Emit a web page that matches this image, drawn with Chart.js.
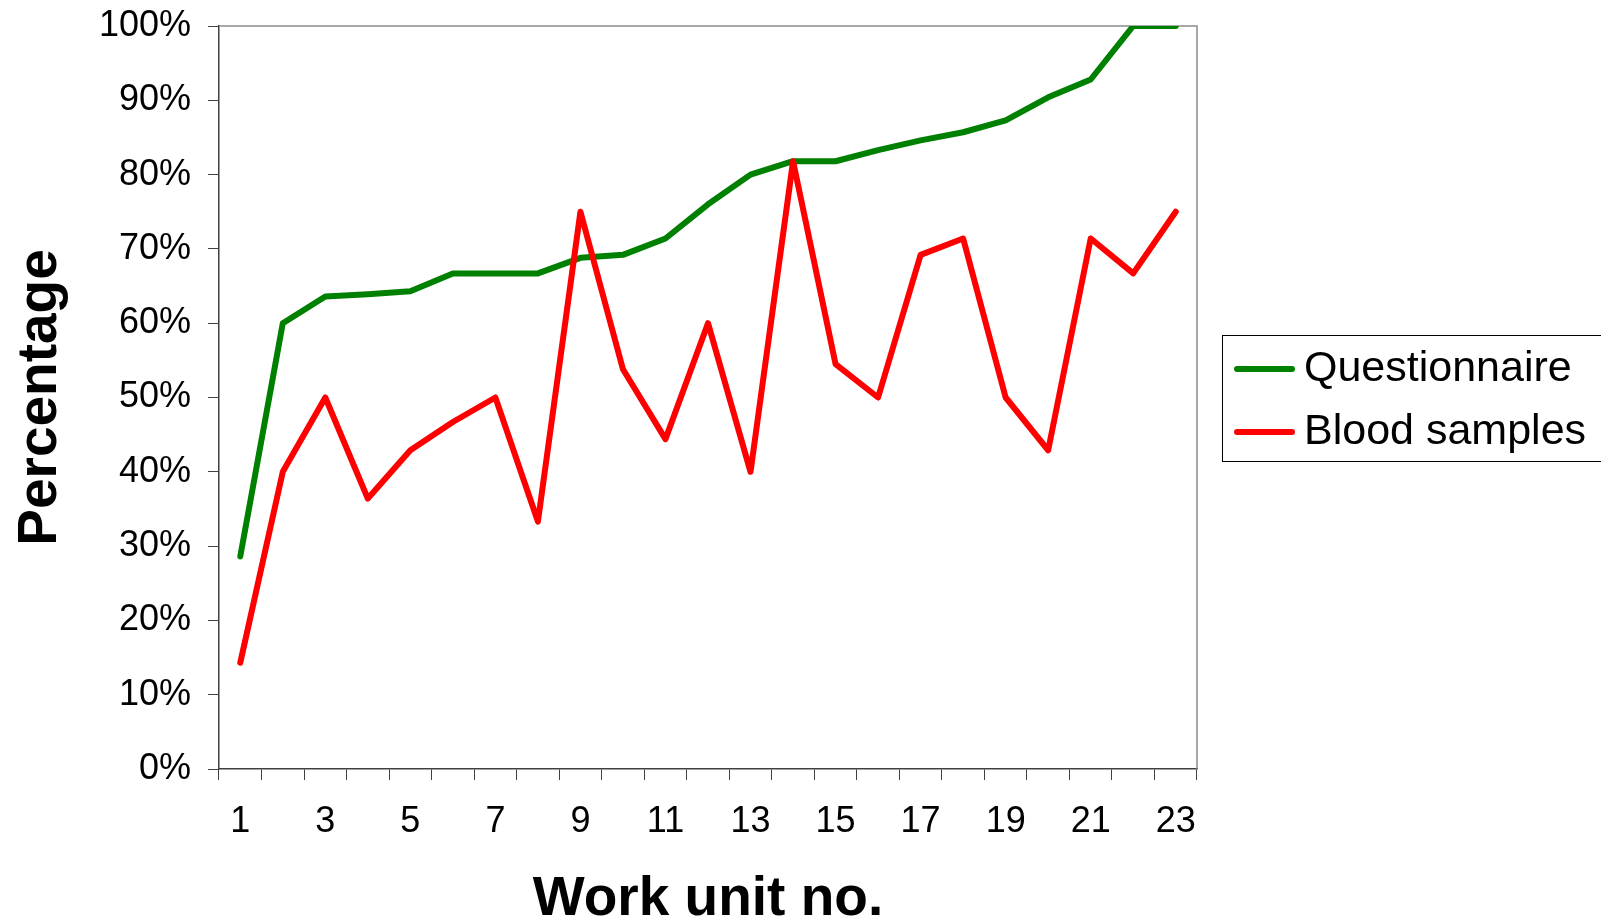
<!DOCTYPE html>
<html>
<head>
<meta charset="utf-8">
<script src="https://cdn.jsdelivr.net/npm/chart.js@4.4.1/dist/chart.umd.min.js"></script>
<style>
  html, body { margin: 0; padding: 0; background: #fff; }
</style>
</head>
<body>
<canvas id="chart" width="1601" height="922"></canvas>
<script>
const workUnits = ['1', '2', '3', '4', '5', '6', '7', '8', '9', '10', '11', '12',
                   '13', '14', '15', '16', '17', '18', '19', '20', '21', '22', '23'];
const questionnaire = [28.6, 60, 63.6, 63.9, 64.3, 66.7, 66.7, 66.7, 68.8, 69.2, 71.4, 76,
                       80, 81.8, 81.8, 83.3, 84.6, 85.7, 87.3, 90.4, 92.8, 100, 100];
const bloodSamples = [14.3, 40, 50, 36.4, 42.9, 46.7, 50, 33.3, 75, 53.8, 44.4, 60,
                      40, 81.8, 54.5, 50, 69.2, 71.4, 50, 42.9, 71.4, 66.7, 75];
const yMin = 0;
const yMax = 100;
const yStep = 10;

Chart.defaults.font.family = '"Liberation Sans", Arial, sans-serif';
Chart.defaults.color = '#000';

// grey frame on top and right of the plot area, like the original
const plotFrame = {
    id: 'plotFrame',
    beforeDatasetsDraw(chart) {
        const { ctx, chartArea: a } = chart;
        ctx.save();
        ctx.strokeStyle = '#8c8c8c';
        ctx.lineWidth = 1.5;
        ctx.beginPath();
        ctx.moveTo(a.left, a.top);
        ctx.lineTo(a.right, a.top);
        ctx.lineTo(a.right, a.bottom);
        ctx.stroke();
        ctx.restore();
    }
};

// boxed legend to the right, running off the edge
const legendBox = {
    id: 'legendBox',
    afterDraw(chart) {
        const { ctx, chartArea } = chart;
        const left = chartArea.right + 25;
        const top = 335;
        const bottom = 461;
        ctx.save();
        ctx.strokeStyle = '#000';
        ctx.lineWidth = 1;
        ctx.strokeRect(left + 0.5, top + 0.5, chart.width - left + 20, bottom - top);
        ctx.font = '43px "Liberation Sans", Arial, sans-serif';
        ctx.textBaseline = 'middle';
        ctx.textAlign = 'left';
        chart.data.datasets.forEach((ds, i) => {
            const y = 369 + i * 63;
            ctx.strokeStyle = ds.borderColor;
            ctx.lineWidth = 6;
            ctx.lineCap = 'round';
            ctx.beginPath();
            ctx.moveTo(left + 15, y);
            ctx.lineTo(left + 70, y);
            ctx.stroke();
            ctx.fillStyle = '#000';
            ctx.fillText(ds.label, left + 82, y);
        });
        ctx.restore();
    }
};

const ctx = document.getElementById('chart').getContext('2d');

const chart = new Chart(ctx, {
    type: 'line',
    data: {
        labels: workUnits,
        datasets: [
            {
                label: 'Questionnaire',
                data: questionnaire,
                borderColor: '#008000',
                backgroundColor: '#008000',
                borderWidth: 6,
                borderCapStyle: 'round',
                borderJoinStyle: 'round',
                pointRadius: 0,
                tension: 0,
                fill: false,
                order: 1
            },
            {
                label: 'Blood samples',
                data: bloodSamples,
                borderColor: '#ff0000',
                backgroundColor: '#ff0000',
                borderWidth: 6,
                borderCapStyle: 'round',
                borderJoinStyle: 'round',
                pointRadius: 0,
                tension: 0,
                fill: false,
                order: 0
            }
        ]
    },
    options: {
        responsive: false,
        animation: false,
        layout: {
            padding: { top: 26, right: 404, bottom: 0, left: 0 }
        },
        plugins: {
            legend: { display: false },
            tooltip: { enabled: false }
        },
        scales: {
            x: {
                offset: true,
                grid: {
                    offset: true,
                    drawOnChartArea: false,
                    drawTicks: true,
                    tickLength: 11,
                    color: '#404040'
                },
                border: { color: '#404040', width: 1.5 },
                ticks: {
                    autoSkip: false,
                    maxRotation: 0,
                    padding: 20,
                    font: { size: 36 },
                    callback: function (val, index) {
                        return index % 2 === 0 ? this.getLabelForValue(val) : '';
                    }
                },
                title: {
                    display: true,
                    text: 'Work unit no.',
                    font: { size: 55, weight: 'bold', lineHeight: 0.8 },
                    padding: { top: 0, bottom: 0 }
                },
                afterFit(scale) { scale.height = 153; }
            },
            y: {
                min: yMin,
                max: yMax,
                grid: {
                    drawOnChartArea: false,
                    drawTicks: true,
                    tickLength: 11,
                    color: '#404040'
                },
                border: { color: '#404040', width: 1.5 },
                ticks: {
                    stepSize: yStep,
                    padding: 17,
                    font: { size: 36 },
                    callback: v => v + '%'
                },
                title: {
                    display: true,
                    text: 'Percentage',
                    font: { size: 55, weight: 'bold', lineHeight: 1.2 },
                    padding: { top: 8, bottom: 0 }
                },
                afterFit(scale) {
                    scale.width = 219;
                    scale.paddingTop = 0;
                    scale.paddingBottom = 0;
                }
            }
        }
    },
    plugins: [plotFrame, legendBox]
});
</script>
</body>
</html>
